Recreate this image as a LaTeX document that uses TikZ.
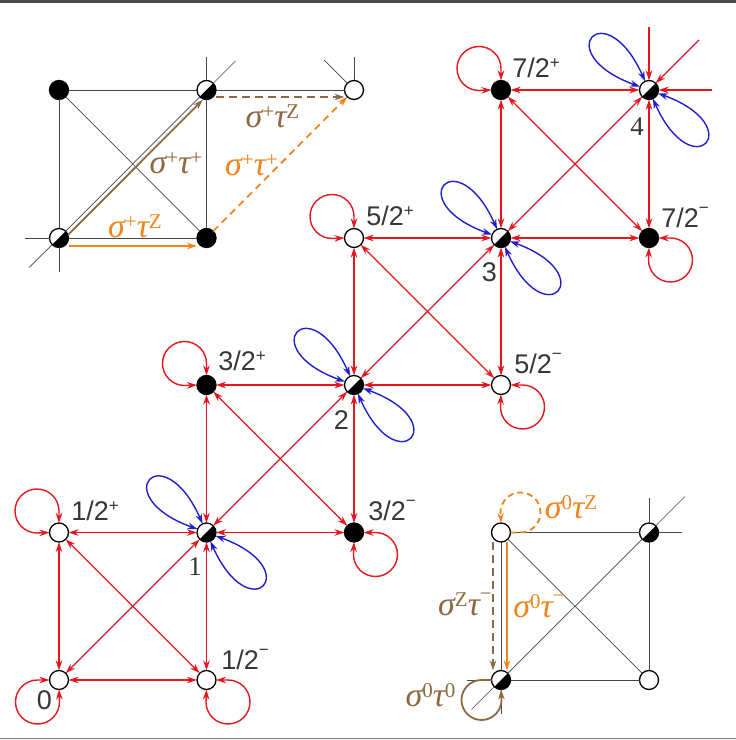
\documentclass[tikz,border=0pt]{standalone}
\usepackage{fontspec}
\usetikzlibrary{arrows.meta}
\newfontfamily\lblfont{Liberation Sans}
\newfontfamily\grkfont{Liberation Serif}
\definecolor{myred}{RGB}{228,22,30}
\definecolor{myblue}{RGB}{30,30,205}
\definecolor{myorange}{RGB}{240,132,30}
\definecolor{mybrown}{RGB}{140,105,65}
\definecolor{mygray}{RGB}{70,70,70}
\definecolor{txtgray}{RGB}{55,55,55}
\definecolor{bargray}{RGB}{75,75,75}
\newcommand\lsp[1]{\raisebox{9pt}{\fontsize{17}{17}\selectfont #1}}
\newcommand\lsm{\raisebox{14pt}{\fontsize{17}{17}\selectfont −}}
\newcommand\gsp[1]{\raisebox{9pt}{\fontsize{21}{21}\selectfont\upshape #1}}
\newcommand\gsm{\raisebox{15pt}{\fontsize{21}{21}\selectfont\upshape −}}
\begin{document}
\begin{tikzpicture}[x=1pt,y=1pt,
  >={Stealth[length=10pt,width=6.5pt]},
  st/.style={circle, draw=black, line width=1.3pt, minimum size=19pt, inner sep=0pt, outer sep=0pt},
  op/.style={st, fill=white},
  bk/.style={st, fill=black},
  hf/.style={st, fill=white, path picture={\fill[black] (path picture bounding box.north east) -- (path picture bounding box.south west) -- (path picture bounding box.south east) -- cycle;}},
  redl/.style={draw=myred, line width=1.4pt},
  bluel/.style={draw=myblue, line width=1.4pt},
  grayl/.style={draw=mygray, line width=0.7pt},
  orsolid/.style={draw=myorange, line width=2.2pt},
  brsolid/.style={draw=mybrown, line width=1.8pt},
  ordash/.style={draw=myorange, line width=1.8pt, dash pattern=on 7pt off 5pt},
  brdash/.style={draw=mybrown, line width=2pt, dash pattern=on 8pt off 5pt},
  lbl/.style={text=txtgray, font=\lblfont\fontsize{27}{27}\selectfont, inner sep=0pt},
  grk/.style={font=\grkfont\itshape\fontsize{34}{34}\selectfont, inner sep=0pt}
]
\useasboundingbox (0,0) rectangle (736,740);
\fill[bargray] (0,737) rectangle (736,740);
\draw[gray, line width=1pt] (0,1.3) -- (736,1.3);

% ---------- top-left inset ----------
\node[bk] (a1) at (59,650) {};
\node[hf] (a2) at (206.5,650) {};
\node[op] (a3) at (354,650) {};
\node[hf] (a4) at (59,502) {};
\node[bk] (a5) at (206.5,502) {};
\coordinate (sa1) at (206.5,683);
\coordinate (sa2) at (235.5,679);
\coordinate (sa3) at (324,680);
\coordinate (sa4) at (354,683);
\coordinate (sa5) at (25,502);
\coordinate (sa6) at (59,468);
\coordinate (sa7) at (29,472.5);
\draw[grayl] (a1) -- (a2);
\draw[grayl] (a2) -- (a3);
\draw[grayl] (a1) -- (a4);
\draw[grayl] (a2) -- (a5);
\draw[grayl] (a4) -- (a5);
\draw[grayl] (a1) -- (a5);
\draw[grayl] (sa7) -- (a4);
\draw[grayl] (a4) -- (a2);
\draw[grayl] (a2) -- (sa2);
\draw[grayl] (a2) -- (sa1);
\draw[grayl] (a3) -- (sa4);
\draw[grayl] (a3) -- (sa3);
\draw[grayl] (a4) -- (sa5);
\draw[grayl] (a4) -- (sa6);

\draw[brsolid,->,transform canvas={shift={(3pt,-3pt)}}] (a4) -- (a2);
\draw[orsolid,->,transform canvas={yshift=-8pt}] (a4) -- (a5);
\draw[brdash,->,transform canvas={yshift=-7pt}] (a2) -- (a3);
\draw[ordash,->] (a5) -- (a3);

\node[grk, text=mybrown] (ga1) at (176,577) {σ\gsp{+}τ\gsp{+}};
\node[grk, text=myorange] (ga2) at (135,514) {σ\gsp{+}τ\gsp{Z}};
\node[grk, text=mybrown] (ga3) at (272.5,623.5) {σ\gsp{+}τ\gsp{Z}};
\node[grk, text=myorange] (ga4) at (251.5,575) {σ\gsp{+}τ\gsp{+}};

% ---------- bottom-right inset ----------
\node[op] (b1) at (501,207.5) {};
\node[hf] (b2) at (649,207.5) {};
\node[hf] (b3) at (501,60) {};
\node[op] (b4) at (649,60) {};
\coordinate (sb1) at (471.5,30.5);
\coordinate (sb2) at (685,243.5);
\coordinate (sb3) at (649,242);
\coordinate (sb4) at (682,207.5);
\coordinate (sb5) at (467,60);
\coordinate (sb6) at (501,26);
\draw[grayl] (b1) -- (b2);
\draw[grayl] (b2) -- (b4);
\draw[grayl] (b4) -- (b3);
\draw[grayl] (b3) -- (b1);
\draw[grayl] (b1) -- (b4);
\draw[grayl] (sb1) -- (b3);
\draw[grayl] (b3) -- (b2);
\draw[grayl] (b2) -- (sb2);
\draw[grayl] (b2) -- (sb3);
\draw[grayl] (b2) -- (sb4);
\draw[grayl] (b3) -- (sb5);
\draw[grayl] (b3) -- (sb6);

\draw[ordash,dash pattern=on 6pt off 4pt,->] (b1.east) -- ++(10,0) arc[start angle=270,end angle=540,radius=20] -- (b1.north);
\draw[brdash,->,transform canvas={xshift=-8pt}] (b1) -- (b3);
\draw[orsolid,line width=2.6pt,->,transform canvas={xshift=6pt}] (b1) -- (b3);
\draw[brsolid,->] (b3.west) -- ++(-10,0) arc[start angle=90,end angle=360,radius=20] -- (b3.south);

\node[grk, text=myorange] (gb1) at (571,232.5) {σ\gsp{0}τ\gsp{Z}};
\node[grk, text=mybrown] (gb2) at (465,136) {σ\gsp{Z}τ\gsm};
\node[grk, text=myorange] (gb3) at (539,134) {σ\gsp{0}τ\gsm};
\node[grk, text=mybrown] (gb4) at (430.5,44.5) {σ\gsp{0}τ\gsp{0}};

% ---------- main lattice nodes ----------
\node[op] (n0) at (59,60) {};
\node[op] (n12m) at (206.5,60) {};
\node[op] (n12p) at (59,207.5) {};
\node[hf] (n1) at (206.5,207.5) {};
\node[bk] (n32p) at (206.5,355) {};
\node[hf] (n2) at (354,355) {};
\node[bk] (n32m) at (354,207.5) {};
\node[op] (n52p) at (354,502) {};
\node[hf] (n3) at (501,502) {};
\node[op] (n52m) at (501,355) {};
\node[bk] (n72p) at (501,650) {};
\node[hf] (n4) at (649,650) {};
\node[bk] (n72m) at (649,502) {};

% red edges, square 0
\draw[redl,<->] (n0) -- (n12m);
\draw[redl,<->] (n0) -- (n12p);
\draw[redl,<->] (n12p) -- (n1);
\draw[redl,<->] (n12m) -- (n1);
\draw[redl,<->] (n0) -- (n1);
\draw[redl,<->] (n12p) -- (n12m);
% square 1
\draw[redl,<->] (n1) -- (n32m);
\draw[redl,<->] (n1) -- (n32p);
\draw[redl,<->] (n32p) -- (n2);
\draw[redl,<->] (n32m) -- (n2);
\draw[redl,<->] (n1) -- (n2);
\draw[redl,<->] (n32p) -- (n32m);
% square 2
\draw[redl,<->] (n2) -- (n52m);
\draw[redl,<->] (n2) -- (n52p);
\draw[redl,<->] (n52p) -- (n3);
\draw[redl,<->] (n52m) -- (n3);
\draw[redl,<->] (n2) -- (n3);
\draw[redl,<->] (n52p) -- (n52m);
% square 3
\draw[redl,<->] (n3) -- (n72m);
\draw[redl,<->] (n3) -- (n72p);
\draw[redl,<->] (n72p) -- (n4);
\draw[redl,<->] (n72m) -- (n4);
\draw[redl,<->] (n3) -- (n4);
\draw[redl,<->] (n72p) -- (n72m);

\coordinate (i4a) at (649,713);
\coordinate (i4b) at (712,650);
\coordinate (i4c) at (699,700);
\draw[redl,->] (i4a) -- (n4);
\draw[redl,->] (i4b) -- (n4);
\draw[redl,->] (i4c) -- (n4);

% red self loops
\draw[redl,<->] (n12p.north) -- ++(0,12) arc[start angle=0,end angle=270,radius=22] -- (n12p.west);
\draw[redl,<->] (n32p.north) -- ++(0,12) arc[start angle=0,end angle=270,radius=22] -- (n32p.west);
\draw[redl,<->] (n52p.north) -- ++(0,12) arc[start angle=0,end angle=270,radius=22] -- (n52p.west);
\draw[redl,<->] (n72p.north) -- ++(0,12) arc[start angle=0,end angle=270,radius=22] -- (n72p.west);
\draw[redl,<->] (n12m.east) -- ++(12,0) arc[start angle=90,end angle=-180,radius=22] -- (n12m.south);
\draw[redl,<->] (n32m.east) -- ++(12,0) arc[start angle=90,end angle=-180,radius=22] -- (n32m.south);
\draw[redl,<->] (n52m.east) -- ++(12,0) arc[start angle=90,end angle=-180,radius=22] -- (n52m.south);
\draw[redl,<->] (n72m.east) -- ++(12,0) arc[start angle=90,end angle=-180,radius=22] -- (n72m.south);
\draw[redl,<->] (n0.west) -- ++(-12,0) arc[start angle=90,end angle=360,radius=22] -- (n0.south);

% blue loops
\foreach \nn in {n1,n2,n3,n4}{
  \draw[bluel,<->] (\nn.114) .. controls +(114:98) and +(160:98) .. (\nn.160);
  \draw[bluel,<->] (\nn.294) .. controls +(294:98) and +(340:98) .. (\nn.340);
}

% labels
\node[lbl] (t12p) at (95,229) {1/2\lsp{+}};
\node[lbl] (t12m) at (245,80) {1/2\lsm};
\node[lbl] (t0) at (44.5,40) {0};
\node[lbl, font=\grkfont\fontsize{27}{27}\selectfont] (t1) at (195,173) {1};
\node[lbl] (t32p) at (242,379) {3/2\lsp{+}};
\node[lbl] (t2) at (341.5,320) {2};
\node[lbl] (t32m) at (392,229) {3/2\lsm};
\node[lbl] (t52m) at (538,376) {5/2\lsm};
\node[lbl] (t52p) at (390,524) {5/2\lsp{+}};
\node[lbl] (t3) at (489.5,468) {3};
\node[lbl] (t72p) at (536,672.5) {7/2\lsp{+}};
\node[lbl, font=\grkfont\fontsize{27}{27}\selectfont] (t4) at (637,613) {4};
\node[lbl] (t72m) at (685,522) {7/2\lsm};
\end{tikzpicture}
\end{document}
